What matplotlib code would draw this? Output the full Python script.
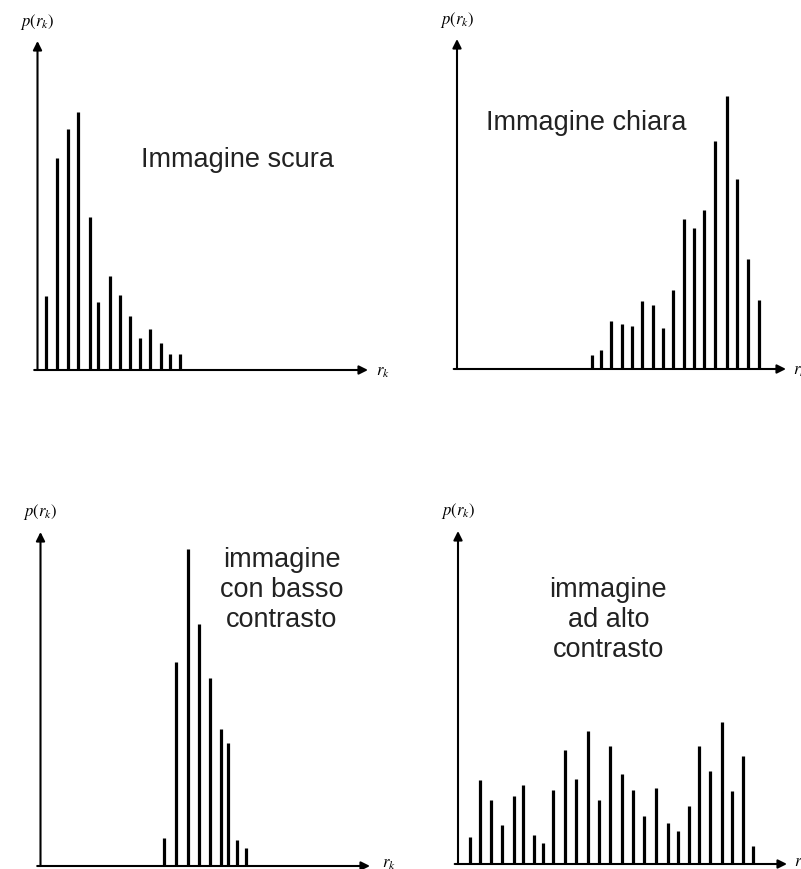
import matplotlib.pyplot as plt

# livelli di grigio normalizzati r_k e relative probabilità p(r_k) (unità arbitrarie)
r_scura = [0.026, 0.060, 0.093, 0.124, 0.159, 0.184, 0.218, 0.250, 0.280, 0.310,
           0.341, 0.373, 0.402, 0.430]
p_scura = [0.225, 0.644, 0.733, 0.784, 0.465, 0.207, 0.286, 0.228, 0.164, 0.097,
           0.125, 0.082, 0.049, 0.049]

r_chiara = [0.411, 0.439, 0.469, 0.501, 0.531, 0.563, 0.595, 0.627, 0.657, 0.689,
            0.720, 0.752, 0.784, 0.820, 0.852, 0.885, 0.917]
p_chiara = [0.042, 0.058, 0.146, 0.136, 0.131, 0.207, 0.194, 0.123, 0.240, 0.455,
            0.426, 0.482, 0.692, 0.826, 0.576, 0.333, 0.209]

r_basso = [0.375, 0.411, 0.447, 0.481, 0.514, 0.548, 0.570, 0.597, 0.624]
p_basso = [0.085, 0.611, 0.948, 0.725, 0.564, 0.409, 0.367, 0.078, 0.055]

r_alto = [0.035, 0.068, 0.100, 0.135, 0.169, 0.198, 0.231, 0.257, 0.289, 0.325,
          0.360, 0.396, 0.430, 0.462, 0.498, 0.533, 0.566, 0.602, 0.637, 0.668,
          0.701, 0.733, 0.766, 0.801, 0.834, 0.865, 0.898]
p_alto = [0.080, 0.252, 0.193, 0.118, 0.203, 0.237, 0.088, 0.063, 0.222, 0.342,
          0.255, 0.398, 0.193, 0.353, 0.270, 0.223, 0.145, 0.228, 0.123, 0.098,
          0.175, 0.355, 0.278, 0.426, 0.220, 0.325, 0.055]

titoli = ["Immagine scura", "Immagine chiara",
          "immagine\ncon basso\ncontrasto", "immagine\nad alto\ncontrasto"]

W, H = 801, 870


def make_axes(fig, x0, y0, x1, y1):
    """Assi in pixel: origine (x0, y0), punte delle frecce in x1 e y1."""
    ax = fig.add_axes([x0 / W, 1 - y0 / H, (x1 - x0) / W, (y0 - y1) / H])
    ax.set_xlim(0, 1)
    ax.set_ylim(0, 1)
    ax.axis("off")
    return ax


def draw_histogram(ax, r, p, title, title_pos, r_label_pos):
    ax.vlines(r, 0, p, color="black", linewidth=2.3, capstyle="butt")
    arrow = dict(arrowstyle="-|>", color="black", lw=1.5,
                 mutation_scale=13, shrinkA=0, shrinkB=0)
    ax.annotate("", xy=(1, 0), xytext=(-0.01, 0), arrowprops=arrow)
    ax.annotate("", xy=(0, 1), xytext=(0, 0), arrowprops=arrow)
    ax.text(0, 1.062, r"$p(r_k)$", ha="center", va="center", fontsize=12)
    ax.text(r_label_pos[0], r_label_pos[1], r"$r_k$", ha="left", va="center",
            fontsize=12, clip_on=False)
    ax.text(title_pos[0], title_pos[1], title, ha="center", va="center",
            fontsize=19.5, color="#222222", linespacing=1.2,
            family=["Liberation Sans", "DejaVu Sans"])


plt.rcParams["mathtext.fontset"] = "stix"

fig = plt.figure(figsize=(W / 100, H / 100), dpi=100)
fig.patch.set_facecolor("white")

ax1 = make_axes(fig, 37.5, 371, 368, 42)
draw_histogram(ax1, r_scura, p_scura, titoli[0], (0.604, 0.641), (1.025, 0.0))

ax2 = make_axes(fig, 457, 370, 786, 40)
draw_histogram(ax2, r_chiara, p_chiara, titoli[1], (0.394, 0.748), (1.022, 0.0))

ax3 = make_axes(fig, 40.5, 867, 370, 533)
draw_histogram(ax3, r_basso, p_basso, titoli[2], (0.732, 0.829), (1.035, 0.012))

ax4 = make_axes(fig, 458, 865, 787, 532)
draw_histogram(ax4, r_alto, p_alto, titoli[3], (0.457, 0.736), (1.022, 0.008))

fig.savefig("out.png", dpi=100, facecolor="white")
